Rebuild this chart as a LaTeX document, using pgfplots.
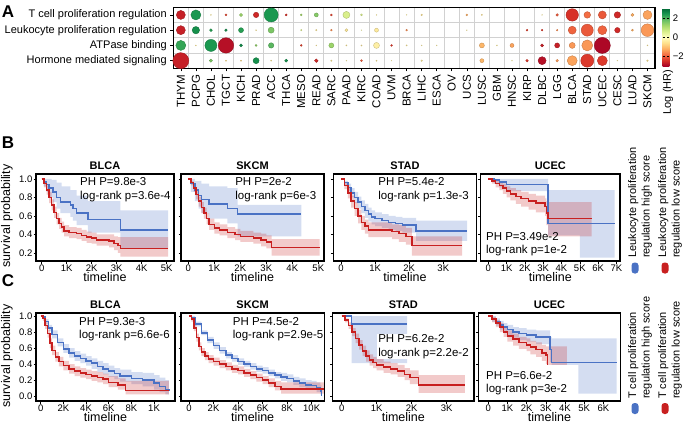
\documentclass[border=0pt]{standalone}
\usepackage{fontspec}
\setmainfont{Liberation Sans}
\usepackage{pgfplots}
\pgfplotsset{compat=1.18}
\usepgfplotslibrary{fillbetween}

\definecolor{kmblue}{RGB}{74,114,196}
\definecolor{kmred}{RGB}{200,32,32}

\pgfplotsset{
  /pgf/number format/assume math mode=true,
  km/.style={scale only axis, anchor=north west,
    tick align=outside, xtick pos=bottom, ytick pos=left,
    scaled x ticks=false, scaled y ticks=false,
    axis line style={line width=1.2pt},
    major tick style={black, line width=0.6pt}, major tick length=2.5pt,
    tick label style={font=\fontsize{9.5}{11}\selectfont, inner sep=1pt},
    y tick label style={/pgf/number format/.cd, fixed, fixed zerofill, precision=1},
    title style={at={(0.5,1)}, anchor=south, yshift=-3.5pt, inner sep=1.5pt,
      font=\bfseries\fontsize{11}{13}\selectfont},
    xlabel={timeline},
    xlabel style={font=\fontsize{12.5}{14}\selectfont, inner sep=0pt, yshift=0pt},
  },
  kmB/.style={km, height=87pt, ymin=0.113, ymax=1.054, ytick={0.2,0.4,0.6,0.8,1.0}},
  kmC/.style={km, height=88pt, ymin=-0.0625, ymax=1.0375, ytick={0,0.2,0.4,0.6,0.8,1.0}},
  bandp/.style={const plot, draw=none},
  kmline/.style={const plot, line width=1.5pt},
  bfill/.style={fill=kmblue, fill opacity=0.24},
  rfill/.style={fill=kmred, fill opacity=0.24},
}
\newcommand{\annot}{\fontsize{11.5}{13.4}\selectfont}

\begin{document}
\begin{tikzpicture}

%% ---------------- panel A : bubble plot ----------------
\begin{axis}[
  at={(173.3pt,-7.3pt)}, anchor=north west, scale only axis,
  width=481.7pt, height=61pt,
  xmin=-0.5, xmax=31.5, ymin=0.5, ymax=4.5,
  xtick={0,...,31},
  xticklabels={THYM,PCPG,CHOL,TGCT,KICH,PRAD,ACC,THCA,MESO,READ,SARC,PAAD,KIRC,COAD,UVM,BRCA,LIHC,ESCA,OV,UCS,LUSC,GBM,HNSC,KIRP,DLBC,LGG,BLCA,STAD,UCEC,CESC,LUAD,SKCM},
  ytick={1,2,3,4},
  yticklabels={Hormone mediated signaling,ATPase binding,Leukocyte proliferation regulation,T cell proliferation regulation},
  x tick label style={rotate=90, anchor=east, font=\fontsize{11.5}{13}\selectfont},
  y tick label style={font=\fontsize{11}{13}\selectfont},
  minor xtick={-0.5,0.5,...,31.5}, minor ytick={0.5,1.5,2.5,3.5,4.5},
  minor tick length=0pt, grid=minor,
  minor grid style={black!18, line width=0.8pt},
  tick align=outside, xtick pos=bottom, ytick pos=left,
  major tick style={black, line width=0.6pt}, major tick length=3pt,
  axis line style={line width=1.2pt},
  colormap={rdylgn}{rgb255=(165,0,38) rgb255=(215,48,39) rgb255=(244,109,67) rgb255=(253,174,97) rgb255=(254,224,139) rgb255=(255,255,191) rgb255=(217,239,139) rgb255=(166,217,106) rgb255=(102,189,99) rgb255=(26,152,80) rgb255=(0,104,55)},
  point meta min=-3, point meta max=3,
  colorbar,
  colorbar style={at={(1.016,0.985)}, anchor=north west, scale only axis,
    width=6.6pt, height=58pt, ytick={-2,0,2}, yticklabels={−2,0,2},
    yticklabel style={font=\fontsize{9.5}{11}\selectfont},
    axis line style={draw=none}, major tick length=2pt, tick style={black}},
  clip=false,
]
\addplot[scatter, only marks, mark=*, scatter src=explicit,
  visualization depends on={\thisrow{r}\as\rad},
  scatter/@pre marker code/.append style={/tikz/mark size=\rad}]
  table[x=x, y=y, meta=c] {
x y c r
0 4 -2.6 4.5
1 4 2.4 5
2 4 -0.3 0.5
3 4 -2.2 1
4 4 1.3 1.6
5 4 -2.5 2.7
6 4 2.4 7
7 4 -2.4 1
8 4 1.2 0.9
9 4 1.5 2
10 4 -2.2 1
11 4 0.6 3.5
12 4 0.6 1
13 4 -0.3 0.4
15 4 -0.3 0.4
16 4 -0.5 0.8
19 4 -1.2 0.9
20 4 -0.5 0.6
24 4 -0.3 0.4
25 4 -2.0 1.3
26 4 -2.4 6.2
27 4 -1.8 3.3
28 4 -2.0 4
29 4 -2.5 3.2
30 4 -1.2 1.5
31 4 -1.3 4.5
0 3 -2.6 4.5
1 3 2.5 3.7
2 3 2.3 1.4
3 3 2.6 1.3
4 3 2.3 2.5
5 3 -0.4 0.5
6 3 1.6 3
8 3 0.4 0.7
9 3 -0.4 0.7
10 3 -1.5 0.9
11 3 -0.4 1.5
12 3 0 0.4
13 3 -0.4 2
15 3 -1.5 0.9
19 3 -0.3 0.4
23 3 -2.2 0.9
24 3 -2.3 0.8
25 3 -1.5 0.8
26 3 -1.9 4
27 3 -2.0 6
28 3 -1.9 4.5
29 3 -2.5 2.7
30 3 -1.2 1
31 3 -1.4 6.3
0 2 2.2 5
1 2 -0.4 0.5
2 2 2.4 6
3 2 -2.8 7.7
4 2 2.6 1.5
5 2 1.4 1
6 2 1.9 2.7
8 2 -2.2 0.9
9 2 -0.4 0.4
10 2 1.3 2.5
11 2 -0.4 0.6
12 2 -0.4 0.6
13 2 -0.3 3
14 2 -2.3 0.9
15 2 -0.4 0.6
16 2 -0.3 0.4
17 2 -0.3 0.4
20 2 -1.1 2.5
21 2 -0.3 0.5
22 2 -1.3 2
24 2 -2.6 1.5
25 2 -2.6 2.5
26 2 -1.4 3
27 2 -1.4 5.5
28 2 -2.9 8
31 2 -0.4 0.5
0 1 -2.6 8
2 1 1.6 1.6
3 1 -0.6 0.6
4 1 -0.7 0.6
5 1 2.5 3
6 1 -0.4 0.6
7 1 2.5 1.5
9 1 -2.5 1.8
10 1 -0.4 0.7
11 1 -0.3 0.4
12 1 -2.0 1
13 1 -0.4 0.6
14 1 -0.3 0.3
16 1 -0.4 0.8
20 1 -1.1 2
22 1 -0.3 0.4
23 1 -2.3 1.3
24 1 -2.8 4
25 1 -1.4 1.3
26 1 -1.3 5
27 1 -2.3 6.5
28 1 -2.3 5
29 1 -0.3 0.4
31 1 -0.5 0.8
};
\end{axis}
\node[rotate=90, font=\fontsize{11}{13}\selectfont] at (668pt,-92pt) {Log (HR)};

%% ---------------- panel B ----------------
\begin{axis}[kmB, at={(36pt,-174pt)}, width=138pt, xmin=-228, xmax=5290,
  xtick={0,1000,2000,3000,4000,5000}, xticklabels={0,1K,2K,3K,4K,5K}, title={BLCA}]
\addplot[bandp, name path=bbu] coordinates {(0,1)(400,0.99)(600,0.96)(800,0.92)(1150,0.88)(1400,0.82)(1850,0.76)(3150,0.66)(5050,0.66)};
\addplot[bandp, name path=bbl] coordinates {(0,1)(80,0.92)(200,0.86)(300,0.8)(450,0.75)(600,0.68)(750,0.63)(1150,0.59)(1250,0.55)(1400,0.5)(1850,0.42)(3150,0.25)(5050,0.25)};
\addplot[bfill] fill between[of=bbu and bbl];
\addplot[bandp, name path=bru] coordinates {(0,1)(100,0.98)(200,0.93)(300,0.86)(400,0.78)(500,0.7)(600,0.63)(700,0.58)(800,0.54)(900,0.5)(1100,0.48)(1400,0.47)(1600,0.45)(1800,0.43)(2000,0.42)(2200,0.4)(2700,0.4)(2900,0.38)(3050,0.37)(3150,0.37)(5050,0.37)};
\addplot[bandp, name path=brl] coordinates {(0,1)(100,0.91)(200,0.83)(300,0.74)(400,0.66)(500,0.58)(600,0.51)(700,0.46)(800,0.42)(900,0.38)(1100,0.36)(1400,0.35)(1600,0.33)(1800,0.31)(2000,0.3)(2200,0.28)(2700,0.26)(2900,0.23)(3050,0.2)(3150,0.16)(5050,0.16)};
\addplot[rfill] fill between[of=bru and brl];
\addplot[kmline, kmblue] coordinates {(0,1)(80,0.97)(200,0.94)(300,0.9)(450,0.86)(600,0.8)(750,0.75)(1150,0.72)(1250,0.68)(1400,0.63)(1850,0.56)(3150,0.45)(5050,0.45)};
\addplot[kmline, kmred] coordinates {(0,1)(100,0.95)(200,0.88)(300,0.8)(400,0.72)(500,0.64)(600,0.57)(700,0.52)(800,0.48)(900,0.44)(1100,0.42)(1400,0.41)(1600,0.39)(1800,0.37)(2000,0.36)(2200,0.34)(2700,0.33)(2900,0.3)(3050,0.28)(3150,0.25)(5050,0.25)};
\node[anchor=west, align=left, inner sep=0pt, font=\annot] at (axis cs:1530,0.886) {PH P=9.8e-3\\log-rank p=3.6e-4};
\end{axis}

\begin{axis}[kmB, at={(181pt,-174pt)}, width=143pt, xmin=-281, xmax=5219,
  xtick={0,1000,2000,3000,4000,5000}, xticklabels={0,1K,2K,3K,4K,5K}, yticklabels={}, title={SKCM}]
\addplot[bandp, name path=sbu] coordinates {(0,1)(250,0.98)(500,0.95)(800,0.92)(1500,0.9)(1900,0.72)(4350,0.72)};
\addplot[bandp, name path=sbl] coordinates {(0,1)(100,0.86)(250,0.76)(400,0.68)(500,0.63)(800,0.57)(1500,0.52)(1900,0.38)(4350,0.38)};
\addplot[bfill] fill between[of=sbu and sbl];
\addplot[bandp, name path=sru] coordinates {(0,1)(100,0.98)(200,0.94)(300,0.88)(400,0.81)(500,0.75)(600,0.69)(700,0.63)(800,0.57)(1000,0.53)(1200,0.51)(1500,0.48)(1800,0.46)(2000,0.44)(2500,0.42)(2800,0.41)(3000,0.39)(3200,0.35)(5050,0.35)};
\addplot[bandp, name path=srl] coordinates {(0,1)(100,0.93)(200,0.86)(300,0.78)(400,0.7)(500,0.63)(600,0.57)(700,0.51)(800,0.45)(1000,0.41)(1200,0.39)(1500,0.36)(1800,0.34)(2000,0.32)(2500,0.3)(2800,0.27)(3000,0.25)(3200,0.17)(5050,0.17)};
\addplot[rfill] fill between[of=sru and srl];
\addplot[kmline, kmblue] coordinates {(0,1)(100,0.95)(250,0.88)(400,0.82)(500,0.78)(800,0.73)(1500,0.68)(1900,0.62)(4350,0.62)};
\addplot[kmline, kmred] coordinates {(0,1)(100,0.96)(200,0.9)(300,0.83)(400,0.76)(500,0.69)(600,0.63)(700,0.57)(800,0.51)(1000,0.47)(1200,0.45)(1500,0.42)(1800,0.4)(2000,0.38)(2500,0.36)(2800,0.34)(3000,0.32)(3200,0.26)(5050,0.26)};
\node[anchor=west, align=left, inner sep=0pt, font=\annot] at (axis cs:1800,0.886) {PH P=2e-2\\log-rank p=6e-3};
\end{axis}

\begin{axis}[kmB, at={(333.3pt,-174pt)}, width=143.4pt, xmin=-226, xmax=3980,
  xtick={0,1000,2000,3000}, xticklabels={0,1K,2K,3K}, yticklabels={}, title={STAD}]
\addplot[bandp, name path=tbu] coordinates {(0,1)(100,0.98)(200,0.95)(300,0.9)(400,0.86)(500,0.81)(600,0.77)(700,0.73)(800,0.69)(900,0.66)(1000,0.64)(1200,0.62)(1400,0.6)(1600,0.59)(1800,0.58)(2200,0.55)(3700,0.55)};
\addplot[bandp, name path=tbl] coordinates {(0,1)(100,0.93)(200,0.87)(300,0.8)(400,0.74)(500,0.68)(600,0.63)(700,0.58)(800,0.54)(900,0.51)(1000,0.49)(1200,0.47)(1400,0.45)(1600,0.44)(1800,0.42)(2200,0.33)(3700,0.33)};
\addplot[bfill] fill between[of=tbu and tbl];
\addplot[bandp, name path=tru] coordinates {(0,1)(100,0.96)(200,0.9)(300,0.82)(400,0.75)(500,0.67)(600,0.6)(700,0.56)(800,0.53)(1500,0.51)(1700,0.5)(1900,0.47)(2080,0.38)(3550,0.38)};
\addplot[bandp, name path=trl] coordinates {(0,1)(100,0.89)(200,0.79)(300,0.69)(400,0.6)(500,0.52)(600,0.45)(700,0.41)(800,0.37)(1500,0.35)(1700,0.32)(1900,0.29)(2080,0.17)(3550,0.17)};
\addplot[rfill] fill between[of=tru and trl];
\addplot[kmline, kmblue] coordinates {(0,1)(100,0.96)(200,0.91)(300,0.85)(400,0.8)(500,0.75)(600,0.7)(700,0.66)(800,0.62)(900,0.59)(1000,0.57)(1200,0.55)(1400,0.53)(1600,0.52)(1800,0.5)(2200,0.44)(3700,0.44)};
\addplot[kmline, kmred] coordinates {(0,1)(100,0.93)(200,0.85)(300,0.76)(400,0.68)(500,0.6)(600,0.53)(700,0.49)(800,0.45)(1500,0.43)(1700,0.41)(1900,0.38)(2080,0.28)(3550,0.28)};
\node[anchor=west, align=left, inner sep=0pt, font=\annot] at (axis cs:1090,0.886) {PH P=5.4e-2\\log-rank p=1.3e-3};
\end{axis}

\begin{axis}[kmB, at={(480.7pt,-174pt)}, width=139.3pt, xmin=-415, xmax=7197,
  xtick={0,1000,2000,3000,4000,5000,6000,7000}, xticklabels={0,1K,2K,3K,4K,5K,6K,7K}, yticklabels={}, title={UCEC}]
\addplot[bandp, name path=ubu] coordinates {(0,1)(1000,1.0)(3270,0.88)(6900,0.88)};
\addplot[bandp, name path=ubl] coordinates {(0,1)(300,0.95)(600,0.91)(1000,0.87)(3270,0.39)(5000,0.15)(6900,0.15)};
\addplot[bfill] fill between[of=ubu and ubl];
\addplot[bandp, name path=uru] coordinates {(0,1)(200,1.0)(400,0.98)(600,0.97)(800,0.95)(1000,0.92)(1200,0.9)(1500,0.88)(1800,0.86)(2200,0.84)(2600,0.82)(3100,0.79)(3170,0.76)(3270,0.75)(5650,0.75)};
\addplot[bandp, name path=url] coordinates {(0,1)(200,0.95)(400,0.91)(600,0.88)(800,0.84)(1000,0.8)(1200,0.77)(1500,0.73)(1800,0.7)(2200,0.67)(2600,0.64)(3100,0.6)(3170,0.5)(3270,0.38)(5650,0.38)};
\addplot[rfill] fill between[of=uru and url];
\addplot[kmline, kmblue] coordinates {(0,1)(300,0.99)(600,0.97)(1000,0.94)(3270,0.52)(6900,0.52)};
\addplot[kmline, kmred] coordinates {(0,1)(200,0.98)(400,0.95)(600,0.93)(800,0.9)(1000,0.87)(1200,0.84)(1500,0.81)(1800,0.79)(2200,0.76)(2600,0.74)(3100,0.7)(3170,0.63)(3270,0.57)(5650,0.57)};
\node[anchor=west, align=left, inner sep=0pt, font=\annot] at (axis cs:-130,0.295) {PH P=3.49e-2\\log-rank p=1e-2};
\end{axis}

%% ---------------- panel C ----------------
\begin{axis}[kmC, at={(36pt,-313pt)}, width=139pt, xmin=-415, xmax=11850,
  xtick={0,2000,4000,6000,8000,10000}, xticklabels={0,2K,4K,6K,8K,1K}, title={BLCA}]
\addplot[bandp, name path=cbbu] coordinates {(0,1)(200,1.0)(400,0.96)(700,0.89)(1000,0.82)(1500,0.72)(2000,0.65)(2500,0.6)(3000,0.56)(3500,0.53)(4000,0.5)(4500,0.47)(5000,0.44)(5500,0.41)(6000,0.38)(6500,0.35)(7000,0.33)(8000,0.3)(9000,0.29)(10000,0.26)(10500,0.23)(11000,0.2)(11300,0.18)};
\addplot[bandp, name path=cbbl] coordinates {(0,1)(200,0.97)(400,0.9)(700,0.81)(1000,0.72)(1500,0.62)(2000,0.54)(2500,0.48)(3000,0.44)(3500,0.41)(4000,0.38)(4500,0.34)(5000,0.3)(5500,0.27)(6000,0.24)(6500,0.21)(7000,0.18)(8000,0.15)(9000,0.12)(10000,0.08)(10500,0.05)(11000,0.02)(11300,0.01)};
\addplot[bfill] fill between[of=cbbu and cbbl];
\addplot[bandp, name path=cbru] coordinates {(0,1)(200,0.99)(400,0.92)(600,0.83)(800,0.72)(1000,0.63)(1300,0.55)(1600,0.49)(2000,0.44)(2500,0.4)(3000,0.37)(3500,0.35)(4000,0.33)(4500,0.31)(5000,0.3)(5500,0.28)(6000,0.25)(6800,0.22)(7500,0.19)(11300,0.19)};
\addplot[bandp, name path=cbrl] coordinates {(0,1)(200,0.94)(400,0.84)(600,0.73)(800,0.6)(1000,0.51)(1300,0.43)(1600,0.37)(2000,0.32)(2500,0.28)(3000,0.25)(3500,0.23)(4000,0.21)(4500,0.19)(5000,0.17)(5500,0.15)(6000,0.11)(6800,0.08)(7500,0.02)(11300,0.02)};
\addplot[rfill] fill between[of=cbru and cbrl];
\addplot[kmline, kmblue] coordinates {(0,1)(200,0.99)(400,0.93)(700,0.85)(1000,0.77)(1500,0.67)(2000,0.59)(2500,0.54)(3000,0.5)(3500,0.47)(4000,0.44)(4500,0.41)(5000,0.37)(5500,0.34)(6000,0.31)(6500,0.28)(7000,0.25)(8000,0.22)(9000,0.2)(10000,0.16)(10500,0.12)(11000,0.08)(11300,0.06)};
\addplot[kmline, kmred] coordinates {(0,1)(200,0.97)(400,0.88)(600,0.78)(800,0.66)(1000,0.57)(1300,0.49)(1600,0.43)(2000,0.38)(2500,0.34)(3000,0.31)(3500,0.29)(4000,0.27)(4500,0.25)(5000,0.23)(5500,0.21)(6000,0.17)(6800,0.14)(7500,0.07)(11300,0.07)};
\node[anchor=west, align=left, inner sep=0pt, font=\annot] at (axis cs:3380,0.834) {PH P=9.3e-3\\log-rank p=6.6e-6};
\end{axis}

\begin{axis}[kmC, at={(181pt,-313pt)}, width=143.3pt, xmin=-652, xmax=11030,
  xtick={0,2000,4000,6000,8000,10000}, xticklabels={0,2K,4K,6K,8K,10K}, yticklabels={}, title={SKCM}]
\addplot[bandp, name path=csbu] coordinates {(0,1)(200,1.0)(500,0.93)(1000,0.82)(1500,0.74)(2000,0.67)(2500,0.61)(3000,0.55)(3500,0.51)(4000,0.47)(4500,0.44)(5000,0.41)(5500,0.38)(6000,0.36)(6500,0.33)(7000,0.3)(7500,0.29)(8000,0.27)(8500,0.24)(9000,0.22)(9500,0.2)(10000,0.19)(10400,0.17)(10700,0.14)(10800,0.14)};
\addplot[bandp, name path=csbl] coordinates {(0,1)(200,0.96)(500,0.87)(1000,0.76)(1500,0.66)(2000,0.59)(2500,0.53)(3000,0.47)(3500,0.43)(4000,0.39)(4500,0.36)(5000,0.33)(5500,0.3)(6000,0.28)(6500,0.25)(7000,0.22)(7500,0.19)(8000,0.17)(8500,0.14)(9000,0.11)(9500,0.09)(10000,0.08)(10400,0.05)(10700,0.02)(10800,0.0)};
\addplot[bfill] fill between[of=csbu and csbl];
\addplot[bandp, name path=csru] coordinates {(0,1)(200,0.98)(400,0.89)(600,0.78)(800,0.67)(1000,0.6)(1300,0.55)(1600,0.51)(2000,0.48)(2500,0.45)(3000,0.42)(3500,0.39)(4000,0.37)(4500,0.34)(5000,0.31)(5500,0.28)(6000,0.25)(6500,0.22)(7000,0.19)(7500,0.17)(11000,0.17)};
\addplot[bandp, name path=csrl] coordinates {(0,1)(200,0.93)(400,0.81)(600,0.68)(800,0.57)(1000,0.5)(1300,0.45)(1600,0.41)(2000,0.38)(2500,0.35)(3000,0.32)(3500,0.29)(4000,0.27)(4500,0.24)(5000,0.21)(5500,0.18)(6000,0.15)(6500,0.11)(7000,0.07)(7500,0.03)(11000,0.03)};
\addplot[rfill] fill between[of=csru and csrl];
\addplot[kmline, kmblue] coordinates {(0,1)(200,0.98)(500,0.9)(1000,0.79)(1500,0.7)(2000,0.63)(2500,0.57)(3000,0.51)(3500,0.47)(4000,0.43)(4500,0.4)(5000,0.37)(5500,0.34)(6000,0.32)(6500,0.29)(7000,0.26)(7500,0.24)(8000,0.22)(8500,0.19)(9000,0.16)(9500,0.14)(10000,0.13)(10400,0.1)(10700,0.06)(10800,0.0)};
\addplot[kmline, kmred] coordinates {(0,1)(200,0.96)(400,0.85)(600,0.73)(800,0.62)(1000,0.55)(1300,0.5)(1600,0.46)(2000,0.43)(2500,0.4)(3000,0.37)(3500,0.34)(4000,0.32)(4500,0.29)(5000,0.26)(5500,0.23)(6000,0.2)(6500,0.16)(7000,0.12)(7500,0.09)(11000,0.09)};
\node[anchor=west, align=left, inner sep=0pt, font=\annot] at (axis cs:3560,0.834) {PH P=4.5e-2\\log-rank p=2.9e-5};
\end{axis}

\begin{axis}[kmC, at={(332.7pt,-313pt)}, width=141.3pt, xmin=-257, xmax=3780,
  xtick={0,1000,2000,3000}, xticklabels={0,1K,2K,3K}, yticklabels={}, title={STAD}]
\addplot[bandp, name path=ctbu] coordinates {(0,1)(280,1.0)(1870,1.0)};
\addplot[bandp, name path=ctbl] coordinates {(0,1)(280,0.41)(1870,0.41)};
\addplot[bfill] fill between[of=ctbu and ctbl];
\addplot[bandp, name path=ctru] coordinates {(0,1)(100,0.97)(200,0.92)(300,0.85)(400,0.78)(500,0.7)(600,0.63)(700,0.57)(800,0.52)(900,0.49)(1000,0.46)(1200,0.43)(1400,0.41)(1600,0.39)(1800,0.35)(1950,0.32)(2200,0.26)(3520,0.26)};
\addplot[bandp, name path=ctrl] coordinates {(0,1)(100,0.92)(200,0.84)(300,0.75)(400,0.66)(500,0.58)(600,0.5)(700,0.43)(800,0.38)(900,0.35)(1000,0.32)(1200,0.29)(1400,0.27)(1600,0.24)(1800,0.2)(1950,0.15)(2200,0.04)(3520,0.04)};
\addplot[rfill] fill between[of=ctru and ctrl];
\addplot[kmline, kmblue] coordinates {(0,1)(280,0.9)(1870,0.9)};
\addplot[kmline, kmred] coordinates {(0,1)(100,0.95)(200,0.88)(300,0.8)(400,0.72)(500,0.64)(600,0.56)(700,0.5)(800,0.45)(900,0.42)(1000,0.39)(1200,0.36)(1400,0.34)(1600,0.31)(1800,0.27)(1950,0.23)(2200,0.14)(3520,0.14)};
\node[anchor=west, align=left, inner sep=1pt, fill=white, font=\annot] at (axis cs:1010,0.619) {PH P=6.2e-2\\log-rank p=2.2e-2};
\end{axis}

\begin{axis}[kmC, at={(478.3pt,-313pt)}, width=142.4pt, xmin=-522, xmax=6907,
  xtick={0,1000,2000,3000,4000,5000,6000}, xticklabels={0,1K,2K,3K,4K,5K,6K}, yticklabels={}, title={UCEC}]
\addplot[bandp, name path=cubu] coordinates {(0,1)(200,1.0)(400,0.97)(600,0.94)(800,0.91)(1000,0.89)(1300,0.86)(1600,0.85)(2000,0.83)(2500,0.82)(3220,0.74)(3300,0.72)(6700,0.72)};
\addplot[bandp, name path=cubl] coordinates {(0,1)(200,0.93)(400,0.88)(600,0.83)(800,0.8)(1000,0.76)(1300,0.73)(1600,0.7)(2000,0.68)(2500,0.65)(3220,0.42)(3300,0.39)(4700,0.03)(6700,0.03)};
\addplot[bfill] fill between[of=cubu and cubl];
\addplot[bandp, name path=curu] coordinates {(0,1)(200,0.99)(400,0.95)(600,0.91)(800,0.86)(1000,0.82)(1300,0.78)(1600,0.74)(2000,0.72)(2200,0.69)(2500,0.67)(2800,0.64)(3000,0.62)(4100,0.62)};
\addplot[bandp, name path=curl] coordinates {(0,1)(200,0.92)(400,0.86)(600,0.8)(800,0.74)(1000,0.68)(1300,0.63)(1600,0.59)(2000,0.56)(2200,0.52)(2500,0.49)(2800,0.44)(3000,0.4)(3100,0.39)(4100,0.39)};
\addplot[rfill] fill between[of=curu and curl];
\addplot[kmline, kmblue] coordinates {(0,1)(200,0.97)(400,0.93)(600,0.89)(800,0.86)(1000,0.83)(1300,0.8)(1600,0.78)(2000,0.76)(2500,0.74)(3220,0.58)(3300,0.42)(6700,0.42)};
\addplot[kmline, kmred] coordinates {(0,1)(200,0.96)(400,0.91)(600,0.86)(800,0.8)(1000,0.75)(1300,0.71)(1600,0.67)(2000,0.64)(2200,0.61)(2500,0.58)(2800,0.54)(3000,0.51)(3100,0.39)};
\node[anchor=west, align=left, inner sep=0pt, font=\annot] at (axis cs:-120,0.159) {PH P=6.6e-2\\log-rank p=3e-2};
\end{axis}

%% ---------------- labels and legends ----------------
\node[font=\bfseries\fontsize{17}{20}\selectfont] at (8pt,-12pt) {A};
\node[font=\bfseries\fontsize{17}{20}\selectfont] at (8pt,-143pt) {B};
\node[font=\bfseries\fontsize{17}{20}\selectfont] at (8pt,-281pt) {C};
\node[rotate=90, font=\fontsize{12.5}{15}\selectfont] at (7pt,-216pt) {survival probability};
\node[rotate=90, font=\fontsize{12.5}{15}\selectfont] at (7pt,-356pt) {survival probability};

\node[rotate=90, anchor=west, align=left, inner sep=0pt, font=\fontsize{11}{13.4}\selectfont] at (640pt,-258pt) {Leukocyte proliferation\\regulation high score};
\node[rotate=90, anchor=west, align=left, inner sep=0pt, font=\fontsize{11}{13.4}\selectfont] at (670pt,-258pt) {Leukocyte proliferation\\regulation low score};
\fill[kmblue, rounded corners=3pt] (631.5pt,-262.5pt) rectangle (638.5pt,-273.5pt);
\fill[kmred, rounded corners=3pt] (661.5pt,-262.5pt) rectangle (668.5pt,-273.5pt);

\node[rotate=90, anchor=west, align=left, inner sep=0pt, font=\fontsize{11}{13.4}\selectfont] at (640pt,-399pt) {T cell proliferation\\regulation high score};
\node[rotate=90, anchor=west, align=left, inner sep=0pt, font=\fontsize{11}{13.4}\selectfont] at (670pt,-399pt) {T cell proliferation\\regulation low score};
\fill[kmblue, rounded corners=3pt] (631.5pt,-403pt) rectangle (638.5pt,-414pt);
\fill[kmred, rounded corners=3pt] (661.5pt,-403pt) rectangle (668.5pt,-414pt);

\pgfresetboundingbox
\path[use as bounding box] (0pt,0pt) rectangle (685pt,-428pt);
\end{tikzpicture}
\end{document}
